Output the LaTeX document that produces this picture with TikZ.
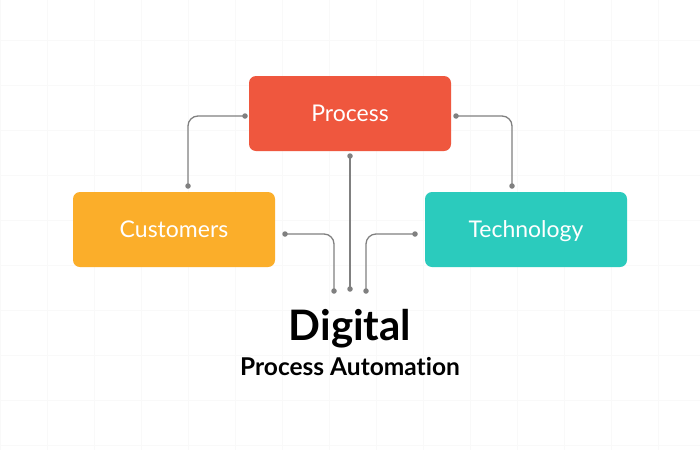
\documentclass[tikz,border=0pt]{standalone}
\usepackage{fontspec}
\setmainfont{Lato}[Ligatures=NoCommon]
\definecolor{procc}{HTML}{EF573E}
\definecolor{custc}{HTML}{FBAE2A}
\definecolor{techc}{HTML}{2BCBBD}
\definecolor{linec}{HTML}{808080}
\definecolor{gridc}{HTML}{F9F9F9}
\begin{document}
\begin{tikzpicture}[x=1pt,y=-1pt,
  box/.style={rounded corners=7pt, minimum width=202pt, minimum height=75pt, text=white, font=\fontsize{23}{26}\selectfont, inner sep=0pt, text height=18pt, text depth=2pt},
  conn/.style={draw=linec, line width=1.3pt, rounded corners=10pt},
  dotc/.style={circle, fill=linec, inner sep=0pt, minimum size=5.5pt}]
\useasboundingbox (0,0) rectangle (700,450);
\fill[white] (0,0) rectangle (700,450);
\foreach \x in {0,47,...,700} \draw[gridc, line width=0.5pt] (\x,0) -- (\x,450);
\foreach \y in {40,85,...,450} \draw[gridc, line width=0.5pt] (0,\y) -- (700,\y);
\node[box, fill=procc] (proc) at (350,113.5) {Process};
\node[box, fill=custc] (cust) at (174,229.5) {Customers};
\node[box, fill=techc] (tech) at (526,229.5) {Technology};
% dots
\node[dotc] (d1) at (245,116) {};
\node[dotc] (d2) at (188,186) {};
\node[dotc] (d3) at (456,116) {};
\node[dotc] (d4) at (512,186) {};
\node[dotc] (d5) at (350,156) {};
\node[dotc] (d6) at (350,289) {};
\node[dotc] (d7) at (285,234) {};
\node[dotc] (d8) at (334,291) {};
\node[dotc] (d9) at (415,234) {};
\node[dotc] (d10) at (366,291) {};
\draw[conn] (d1.center) -| (d2.center);
\draw[conn] (d3.center) -| (d4.center);
\draw[conn] (d5.center) -- (d6.center);
\draw[conn] (d7.center) -| (d8.center);
\draw[conn] (d9.center) -| (d10.center);
\node[font=\fontsize{42}{46}\selectfont\bfseries, inner sep=0pt] (dig) at (350,329) {Digital};
\node[font=\fontsize{24.5}{28}\selectfont\bfseries, inner sep=0pt] (pa) at (350,367) {Process Automation};
\end{tikzpicture}
\end{document}
